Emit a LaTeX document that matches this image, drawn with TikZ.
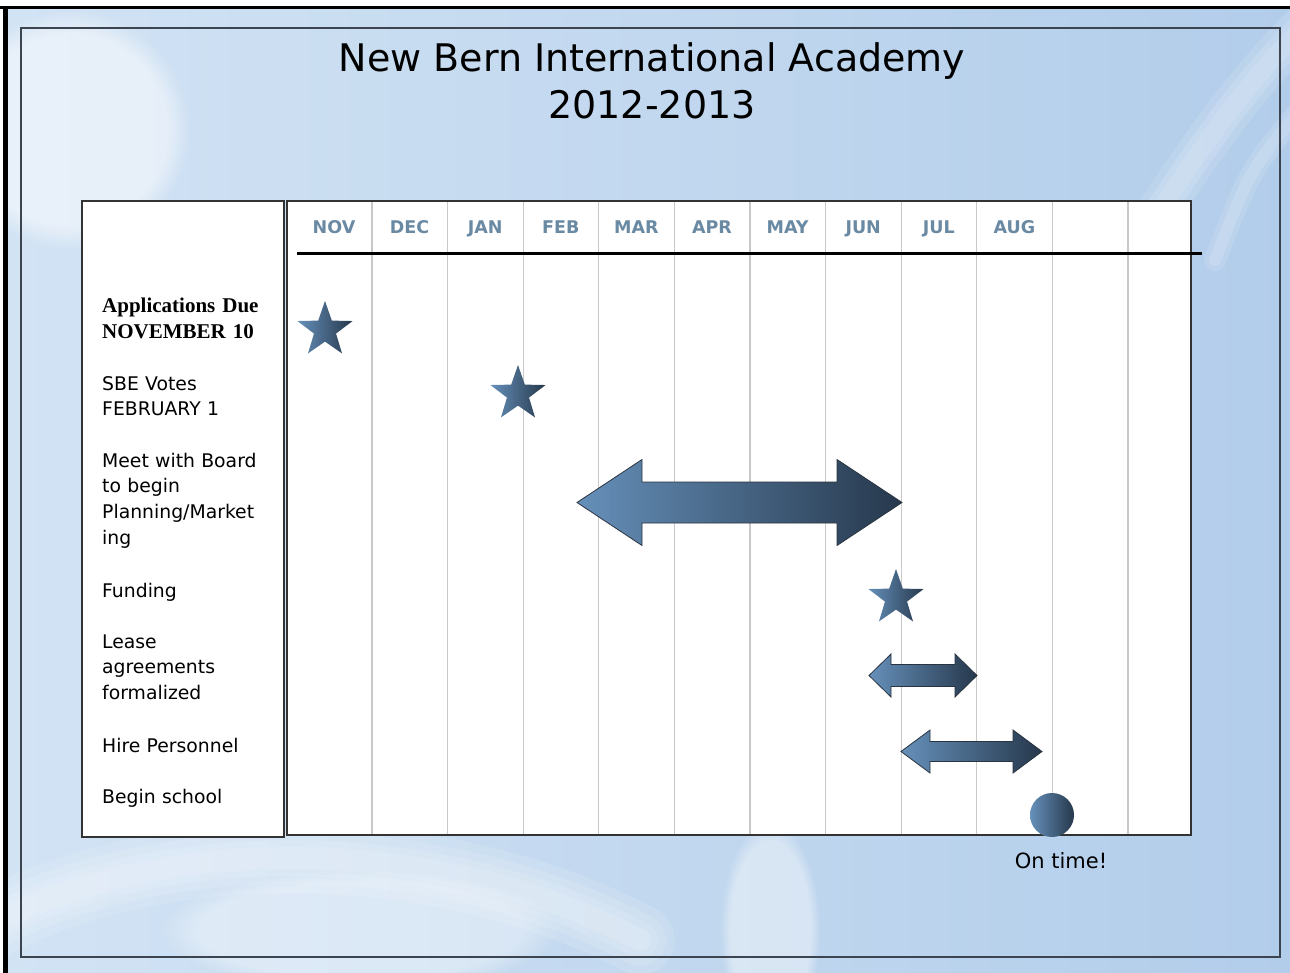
\documentclass[tikz,border=0pt]{standalone}
\usepackage{fontspec}
\setmainfont{DejaVu Sans}
\newfontfamily\timesfont{Liberation Serif}
\usetikzlibrary{shapes.geometric,fadings}

\definecolor{paleblue}{HTML}{D2E3F4}
\definecolor{skyblue}{HTML}{B2CDEA}
\definecolor{framegray}{HTML}{3C4450}
\definecolor{gridgray}{HTML}{C8C8C8}
\definecolor{monthblue}{HTML}{6A89A3}
\definecolor{shapelight}{HTML}{6690BA}
\definecolor{shapedark}{HTML}{26384C}
\definecolor{shapeedge}{HTML}{2A3440}

\tikzset{
  month/.style={font=\bfseries\fontsize{17.5}{18}\selectfont, text=monthblue, anchor=base, inner sep=0pt},
  task/.style={font=\fontsize{18.8}{25.7}\selectfont, anchor=base west, text width=180pt, align=left, inner sep=0pt},
  gridline/.style={gridgray, line width=1.2pt},
  milestone/.style={star, star points=5, star point ratio=2.5, minimum size=58pt, inner sep=0pt,
    left color=shapelight, right color=shapedark},
  span/.style={left color=shapelight, right color=shapedark, draw=shapeedge, line width=0.8pt},
  haze/.style={white, opacity=0.12, line cap=round},
  glow/.style={white, path fading=circle with fuzzy edge 20 percent},
}

\begin{document}
\begin{tikzpicture}[x=1pt,y=-1pt]
\useasboundingbox (0,0) rectangle (1290,973);

% Slide background
\fill[white] (0,0) rectangle (1290,973);
\shade[left color=paleblue, right color=skyblue] (8,9) rectangle (1290,973);
\begin{scope}
  \clip (8,9) rectangle (1290,973);
  % soft swirls, stacked strokes for a blurred edge
  \foreach \w in {70,52,36,22}
    \draw[haze, line width=\w pt] (-20,930) .. controls (150,835) and (430,830) .. (640,940);
  \foreach \w in {44,30,18}
    \draw[haze, line width=\w pt] (1140,240) .. controls (1200,150) and (1240,90) .. (1300,30);
  \foreach \w in {22,12}
    \draw[haze, line width=\w pt] (1215,260) .. controls (1250,170) .. (1300,110);
  \fill[glow, opacity=0.5] (70,130) circle (120pt);
  \fill[glow, opacity=0.4] (770,930) ellipse (50pt and 110pt);
  \fill[glow, opacity=0.35] (360,930) ellipse (200pt and 60pt);
\end{scope}

% Frames
\draw[line width=3.5pt] (0,7.7) -- (1290,7.7);
\draw[line width=5pt] (5.8,6) -- (5.8,973);
\draw[framegray, line width=2pt] (21,28) rectangle (1280,957);

% Title
\node[font=\fontsize{38}{40}\selectfont, anchor=base] (title) at (652,72) {New Bern International Academy};
\node[font=\fontsize{38}{40}\selectfont, anchor=base] (years) at (652,119) {2012-2013};

% Task column and chart
\draw[fill=white, draw=black!80, line width=1.6pt] (82,201) rectangle (284,837);
\draw[fill=white, draw=black!80, line width=1.6pt] (287,201) rectangle (1191,835);
\foreach \k in {0,...,10}
  \draw[gridline] ({372+75.6*\k},202) -- ({372+75.6*\k},834);
\foreach \m [count=\i from 0] in {NOV,DEC,JAN,FEB,MAR,APR,MAY,JUN,JUL,AUG}
  \node[month] (m\i) at ({334+75.6*\i},234) {\m};
\draw[line width=3pt] (297,253.5) -- (1202,253.5);

% Tasks
\node[task, font=\timesfont\bfseries\fontsize{21}{26}\selectfont] (apps) at (102,313) {Applications Due\\NOVEMBER 10};
\node[task] (sbe) at (102,390) {SBE Votes\\FEBRUARY 1};
\node[task] (board) at (102,467) {Meet with Board\\to begin\\Planning/Market\\ing};
\node[task] (fund) at (102,597) {Funding};
\node[task] (lease) at (102,648) {Lease\\agreements\\formalized};
\node[task] (hire) at (102,752) {Hire Personnel};
\node[task] (begin) at (102,803) {Begin school};

% Milestones
\node[milestone] (due) at (325,330) {};
\node[milestone] (vote) at (518,394) {};
\node[milestone] (money) at (896,598) {};

% Spans: left tip/right tip/centre/head length/half shaft/half head
\foreach \xa/\xb/\yc/\hl/\sh/\hh in {577/902/502.5/65/20.5/43, 869/977/675.5/22/11/21.5, 901/1042/751.5/29/10/21.5}
  \draw[span] (\xa,\yc) -- ++(\hl,-\hh) -- ++(0,\hh-\sh) -- (\xb-\hl,\yc-\sh) -- ++(0,\sh-\hh)
    -- (\xb,\yc) -- ++(-\hl,\hh) -- ++(0,\sh-\hh) -- (\xa+\hl,\yc+\sh) -- ++(0,\hh-\sh) -- cycle;

% Opening day
\node[circle, minimum size=44pt, inner sep=0pt, left color=shapelight, right color=shapedark] (open) at (1052,815) {};
\node[font=\fontsize{21}{24}\selectfont, anchor=base] (ontime) at (1061,868) {On time!};
\end{tikzpicture}
\end{document}
